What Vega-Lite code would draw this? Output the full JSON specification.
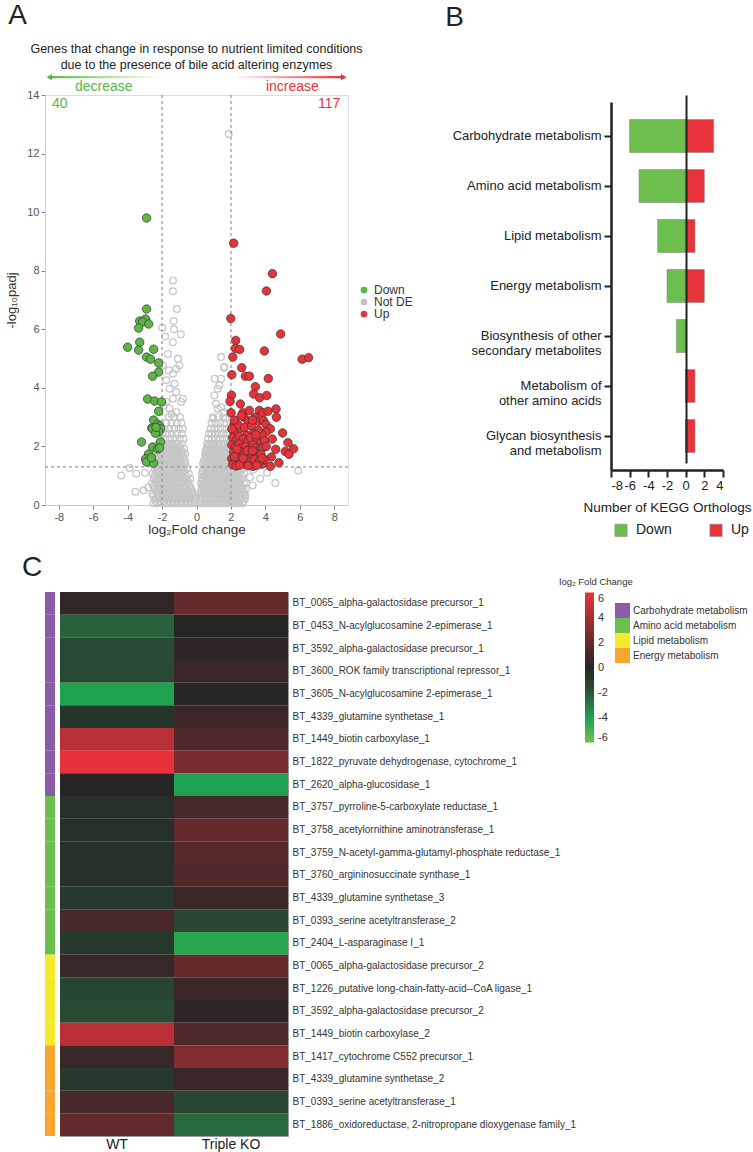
{
"$schema": "https://vega.github.io/schema/vega-lite/v6.json",
"padding": {"left": 5, "top": 1, "right": 0, "bottom": 0},
"background": "white",
"config": {"font": "Liberation Sans", "view": {"stroke": null}},
"datasets": {
"notde": [
{"lfc":1.87,"nlp":12.67},{"lfc":-1.37,"nlp":7.67},{"lfc":-1.37,"nlp":7.3},{"lfc":-1.14,"nlp":6.69},{"lfc":-1.33,"nlp":6.28},{"lfc":-1.99,"nlp":6.05},{"lfc":-1.31,"nlp":6.0},{"lfc":-1.82,"nlp":5.75},{"lfc":-0.91,"nlp":5.83},{"lfc":-1.37,"nlp":5.56},{"lfc":-1.66,"nlp":5.16},{"lfc":-1.08,"nlp":4.99},{"lfc":-0.99,"nlp":4.77},{"lfc":-1.18,"nlp":4.65},{"lfc":-1.95,"nlp":4.77},{"lfc":-1.6,"nlp":4.6},{"lfc":-1.37,"nlp":4.48},{"lfc":-1.76,"nlp":4.26},{"lfc":-1.28,"nlp":4.14},{"lfc":-1.57,"nlp":3.97},{"lfc":-1.18,"nlp":3.86},{"lfc":-1.37,"nlp":3.63},{"lfc":-0.79,"nlp":3.63},{"lfc":-0.89,"nlp":3.52},{"lfc":-1.76,"nlp":3.52},{"lfc":-1.57,"nlp":3.29},{"lfc":-1.18,"nlp":3.17},{"lfc":-1.9,"nlp":3.4},{"lfc":-1.45,"nlp":3.1},
{"lfc":1.43,"nlp":5.05},{"lfc":1.59,"nlp":4.69},{"lfc":1.06,"nlp":4.31},{"lfc":1.43,"nlp":4.31},{"lfc":1.33,"nlp":4.09},{"lfc":1.62,"nlp":4.71},{"lfc":1.04,"nlp":3.74},{"lfc":1.24,"nlp":3.97},{"lfc":1.14,"nlp":3.46},{"lfc":1.43,"nlp":3.34},{"lfc":1.62,"nlp":3.17},{"lfc":1.24,"nlp":3.29},{"lfc":0.95,"nlp":2.95},{"lfc":1.8,"nlp":3.3},{"lfc":1.7,"nlp":2.95},
{"lfc":-4.37,"nlp":1.01},{"lfc":-3.88,"nlp":1.26},{"lfc":-3.5,"nlp":1.07},{"lfc":-3.55,"nlp":0.45},{"lfc":-3.07,"nlp":0.5},{"lfc":5.91,"nlp":1.18},{"lfc":4.58,"nlp":0.75},{"lfc":2.88,"nlp":0.73},{"lfc":3.26,"nlp":0.67},{"lfc":2.82,"nlp":0.35},{"lfc":3.1,"nlp":0.95},{"lfc":-2.8,"nlp":0.6},{"lfc":-3.0,"nlp":1.1},{"lfc":3.3,"nlp":1.2},{"lfc":4.1,"nlp":1.1},{"lfc":3.7,"nlp":0.9},
{"lfc":-2.5,"nlp":0.06},{"lfc":-2.28,"nlp":0.06},{"lfc":-2.02,"nlp":0.06},{"lfc":-1.77,"nlp":0.06},{"lfc":-1.5,"nlp":0.06},{"lfc":-1.26,"nlp":0.06},{"lfc":-0.99,"nlp":0.06},{"lfc":-0.74,"nlp":0.06},{"lfc":-0.5,"nlp":0.06},{"lfc":-0.27,"nlp":0.06},{"lfc":-0.08,"nlp":0.06},
{"lfc":-2.38,"nlp":0.22},{"lfc":-2.12,"nlp":0.22},{"lfc":-1.88,"nlp":0.22},{"lfc":-1.62,"nlp":0.22},{"lfc":-1.37,"nlp":0.22},{"lfc":-1.11,"nlp":0.22},{"lfc":-0.86,"nlp":0.22},{"lfc":-0.62,"nlp":0.22},{"lfc":-0.38,"nlp":0.22},{"lfc":-0.14,"nlp":0.22},
{"lfc":-2.55,"nlp":0.39},{"lfc":-2.3,"nlp":0.39},{"lfc":-2.05,"nlp":0.39},{"lfc":-1.79,"nlp":0.39},{"lfc":-1.53,"nlp":0.39},{"lfc":-1.28,"nlp":0.39},{"lfc":-1.03,"nlp":0.39},{"lfc":-0.78,"nlp":0.39},{"lfc":-0.52,"nlp":0.39},{"lfc":-0.24,"nlp":0.39},
{"lfc":-2.45,"nlp":0.56},{"lfc":-2.18,"nlp":0.56},{"lfc":-1.92,"nlp":0.56},{"lfc":-1.66,"nlp":0.56},{"lfc":-1.41,"nlp":0.56},{"lfc":-1.16,"nlp":0.56},{"lfc":-0.9,"nlp":0.56},{"lfc":-0.64,"nlp":0.56},{"lfc":-0.34,"nlp":0.56},
{"lfc":-2.58,"nlp":0.73},{"lfc":-2.33,"nlp":0.73},{"lfc":-2.07,"nlp":0.73},{"lfc":-1.8,"nlp":0.73},{"lfc":-1.55,"nlp":0.73},{"lfc":-1.3,"nlp":0.73},{"lfc":-1.04,"nlp":0.73},{"lfc":-0.77,"nlp":0.73},{"lfc":-0.47,"nlp":0.73},
{"lfc":-2.47,"nlp":0.9},{"lfc":-2.2,"nlp":0.9},{"lfc":-1.94,"nlp":0.9},{"lfc":-1.68,"nlp":0.9},{"lfc":-1.42,"nlp":0.9},{"lfc":-1.17,"nlp":0.9},{"lfc":-0.92,"nlp":0.9},{"lfc":-0.63,"nlp":0.9},{"lfc":-0.36,"nlp":0.9},
{"lfc":-2.55,"nlp":1.07},{"lfc":-2.3,"nlp":1.07},{"lfc":-2.04,"nlp":1.07},{"lfc":-1.79,"nlp":1.07},{"lfc":-1.53,"nlp":1.07},{"lfc":-1.27,"nlp":1.07},{"lfc":-1.01,"nlp":1.07},{"lfc":-0.74,"nlp":1.07},{"lfc":-0.45,"nlp":1.07},
{"lfc":-2.42,"nlp":1.24},{"lfc":-2.16,"nlp":1.24},{"lfc":-1.9,"nlp":1.24},{"lfc":-1.64,"nlp":1.24},{"lfc":-1.39,"nlp":1.24},{"lfc":-1.12,"nlp":1.24},{"lfc":-0.85,"nlp":1.24},{"lfc":-0.55,"nlp":1.24},
{"lfc":-2.52,"nlp":1.41},{"lfc":-2.26,"nlp":1.41},{"lfc":-2.0,"nlp":1.41},{"lfc":-1.75,"nlp":1.41},{"lfc":-1.5,"nlp":1.41},{"lfc":-1.23,"nlp":1.41},{"lfc":-0.96,"nlp":1.41},{"lfc":-0.65,"nlp":1.41},
{"lfc":-2.37,"nlp":1.58},{"lfc":-2.1,"nlp":1.58},{"lfc":-1.85,"nlp":1.58},{"lfc":-1.59,"nlp":1.58},{"lfc":-1.33,"nlp":1.58},{"lfc":-1.06,"nlp":1.58},{"lfc":-0.76,"nlp":1.58},
{"lfc":-2.44,"nlp":1.75},{"lfc":-2.2,"nlp":1.75},{"lfc":-1.95,"nlp":1.75},{"lfc":-1.7,"nlp":1.75},{"lfc":-1.44,"nlp":1.75},{"lfc":-1.17,"nlp":1.75},{"lfc":-0.88,"nlp":1.75},{"lfc":-0.66,"nlp":1.75},
{"lfc":-2.3,"nlp":1.92},{"lfc":-2.05,"nlp":1.92},{"lfc":-1.8,"nlp":1.92},{"lfc":-1.54,"nlp":1.92},{"lfc":-1.28,"nlp":1.92},{"lfc":-0.99,"nlp":1.92},{"lfc":-0.72,"nlp":1.92},
{"lfc":-2.2,"nlp":2.09},{"lfc":-1.92,"nlp":2.09},{"lfc":-1.66,"nlp":2.09},{"lfc":-1.4,"nlp":2.09},{"lfc":-1.12,"nlp":2.09},{"lfc":-0.84,"nlp":2.09},
{"lfc":-2.08,"nlp":2.26},{"lfc":-1.81,"nlp":2.26},{"lfc":-1.55,"nlp":2.26},{"lfc":-1.27,"nlp":2.26},{"lfc":-0.98,"nlp":2.26},{"lfc":-0.76,"nlp":2.26},
{"lfc":-1.96,"nlp":2.43},{"lfc":-1.7,"nlp":2.43},{"lfc":-1.44,"nlp":2.43},{"lfc":-1.15,"nlp":2.43},{"lfc":-0.86,"nlp":2.43},
{"lfc":-1.85,"nlp":2.6},{"lfc":-1.58,"nlp":2.6},{"lfc":-1.3,"nlp":2.6},{"lfc":-1.02,"nlp":2.6},{"lfc":-0.8,"nlp":2.6},
{"lfc":-1.75,"nlp":2.8},{"lfc":-1.45,"nlp":2.8},{"lfc":-1.14,"nlp":2.8},{"lfc":-0.88,"nlp":2.8},
{"lfc":-1.62,"nlp":3.0},{"lfc":-1.3,"nlp":3.0},{"lfc":-0.96,"nlp":3.0},
{"lfc":0.2,"nlp":0.06},{"lfc":0.42,"nlp":0.06},{"lfc":0.67,"nlp":0.06},{"lfc":0.92,"nlp":0.06},{"lfc":1.17,"nlp":0.06},{"lfc":1.42,"nlp":0.06},{"lfc":1.68,"nlp":0.06},{"lfc":1.93,"nlp":0.06},{"lfc":2.18,"nlp":0.06},{"lfc":2.43,"nlp":0.06},{"lfc":2.68,"nlp":0.06},
{"lfc":0.28,"nlp":0.22},{"lfc":0.54,"nlp":0.22},{"lfc":0.8,"nlp":0.22},{"lfc":1.05,"nlp":0.22},{"lfc":1.3,"nlp":0.22},{"lfc":1.56,"nlp":0.22},{"lfc":1.81,"nlp":0.22},{"lfc":2.06,"nlp":0.22},{"lfc":2.32,"nlp":0.22},{"lfc":2.57,"nlp":0.22},{"lfc":2.82,"nlp":0.22},
{"lfc":0.22,"nlp":0.39},{"lfc":0.41,"nlp":0.39},{"lfc":0.66,"nlp":0.39},{"lfc":0.92,"nlp":0.39},{"lfc":1.18,"nlp":0.39},{"lfc":1.43,"nlp":0.39},{"lfc":1.69,"nlp":0.39},{"lfc":1.94,"nlp":0.39},{"lfc":2.2,"nlp":0.39},{"lfc":2.45,"nlp":0.39},{"lfc":2.72,"nlp":0.39},
{"lfc":0.3,"nlp":0.56},{"lfc":0.54,"nlp":0.56},{"lfc":0.8,"nlp":0.56},{"lfc":1.05,"nlp":0.56},{"lfc":1.31,"nlp":0.56},{"lfc":1.56,"nlp":0.56},{"lfc":1.82,"nlp":0.56},{"lfc":2.08,"nlp":0.56},{"lfc":2.33,"nlp":0.56},{"lfc":2.6,"nlp":0.56},{"lfc":2.88,"nlp":0.56},
{"lfc":0.27,"nlp":0.73},{"lfc":0.45,"nlp":0.73},{"lfc":0.69,"nlp":0.73},{"lfc":0.94,"nlp":0.73},{"lfc":1.2,"nlp":0.73},{"lfc":1.45,"nlp":0.73},{"lfc":1.7,"nlp":0.73},{"lfc":1.96,"nlp":0.73},{"lfc":2.22,"nlp":0.73},{"lfc":2.48,"nlp":0.73},{"lfc":2.75,"nlp":0.73},
{"lfc":0.33,"nlp":0.9},{"lfc":0.58,"nlp":0.9},{"lfc":0.83,"nlp":0.9},{"lfc":1.08,"nlp":0.9},{"lfc":1.33,"nlp":0.9},{"lfc":1.59,"nlp":0.9},{"lfc":1.84,"nlp":0.9},{"lfc":2.1,"nlp":0.9},{"lfc":2.36,"nlp":0.9},{"lfc":2.62,"nlp":0.9},
{"lfc":0.3,"nlp":1.07},{"lfc":0.48,"nlp":1.07},{"lfc":0.72,"nlp":1.07},{"lfc":0.97,"nlp":1.07},{"lfc":1.22,"nlp":1.07},{"lfc":1.47,"nlp":1.07},{"lfc":1.73,"nlp":1.07},{"lfc":1.98,"nlp":1.07},{"lfc":2.24,"nlp":1.07},{"lfc":2.5,"nlp":1.07},{"lfc":2.77,"nlp":1.07},
{"lfc":0.4,"nlp":1.24},{"lfc":0.62,"nlp":1.24},{"lfc":0.87,"nlp":1.24},{"lfc":1.11,"nlp":1.24},{"lfc":1.36,"nlp":1.24},{"lfc":1.62,"nlp":1.24},{"lfc":1.88,"nlp":1.24},{"lfc":2.13,"nlp":1.24},{"lfc":2.39,"nlp":1.24},{"lfc":2.64,"nlp":1.24},
{"lfc":0.38,"nlp":1.41},{"lfc":0.55,"nlp":1.41},{"lfc":0.79,"nlp":1.41},{"lfc":1.03,"nlp":1.41},{"lfc":1.28,"nlp":1.41},{"lfc":1.53,"nlp":1.41},{"lfc":1.78,"nlp":1.41},{"lfc":2.04,"nlp":1.41},{"lfc":2.3,"nlp":1.41},
{"lfc":0.48,"nlp":1.58},{"lfc":0.69,"nlp":1.58},{"lfc":0.93,"nlp":1.58},{"lfc":1.17,"nlp":1.58},{"lfc":1.42,"nlp":1.58},{"lfc":1.67,"nlp":1.58},{"lfc":1.93,"nlp":1.58},{"lfc":2.18,"nlp":1.58},
{"lfc":0.5,"nlp":1.75},{"lfc":0.63,"nlp":1.75},{"lfc":0.86,"nlp":1.75},{"lfc":1.1,"nlp":1.75},{"lfc":1.35,"nlp":1.75},{"lfc":1.6,"nlp":1.75},{"lfc":1.85,"nlp":1.75},{"lfc":2.1,"nlp":1.75},
{"lfc":0.58,"nlp":1.92},{"lfc":0.79,"nlp":1.92},{"lfc":1.02,"nlp":1.92},{"lfc":1.26,"nlp":1.92},{"lfc":1.5,"nlp":1.92},{"lfc":1.75,"nlp":1.92},{"lfc":2.0,"nlp":1.92},
{"lfc":0.61,"nlp":2.09},{"lfc":0.74,"nlp":2.09},{"lfc":0.96,"nlp":2.09},{"lfc":1.2,"nlp":2.09},{"lfc":1.44,"nlp":2.09},{"lfc":1.68,"nlp":2.09},{"lfc":1.93,"nlp":2.09},
{"lfc":0.68,"nlp":2.26},{"lfc":0.9,"nlp":2.26},{"lfc":1.13,"nlp":2.26},{"lfc":1.37,"nlp":2.26},{"lfc":1.61,"nlp":2.26},{"lfc":1.86,"nlp":2.26},
{"lfc":0.72,"nlp":2.43},{"lfc":0.86,"nlp":2.43},{"lfc":1.08,"nlp":2.43},{"lfc":1.31,"nlp":2.43},{"lfc":1.55,"nlp":2.43},{"lfc":1.8,"nlp":2.43},
{"lfc":0.82,"nlp":2.6},{"lfc":1.03,"nlp":2.6},{"lfc":1.26,"nlp":2.6},{"lfc":1.5,"nlp":2.6},{"lfc":1.75,"nlp":2.6},
{"lfc":0.88,"nlp":2.8},{"lfc":1.12,"nlp":2.8},{"lfc":1.38,"nlp":2.8},{"lfc":1.63,"nlp":2.8},
{"lfc":0.95,"nlp":3.0},{"lfc":1.25,"nlp":3.0},{"lfc":1.55,"nlp":3.0},
{"lfc":-2.4,"nlp":0.14},{"lfc":-2.15,"nlp":0.14},{"lfc":-1.9,"nlp":0.14},{"lfc":-1.64,"nlp":0.14},{"lfc":-1.38,"nlp":0.14},{"lfc":-1.12,"nlp":0.14},{"lfc":-0.87,"nlp":0.14},{"lfc":-0.61,"nlp":0.14},{"lfc":-0.36,"nlp":0.14},{"lfc":-0.12,"nlp":0.14},
{"lfc":-2.5,"nlp":0.31},{"lfc":-2.24,"nlp":0.31},{"lfc":-1.98,"nlp":0.31},{"lfc":-1.72,"nlp":0.31},{"lfc":-1.46,"nlp":0.31},{"lfc":-1.2,"nlp":0.31},{"lfc":-0.94,"nlp":0.31},{"lfc":-0.68,"nlp":0.31},{"lfc":-0.42,"nlp":0.31},{"lfc":-0.18,"nlp":0.31},
{"lfc":-2.36,"nlp":0.48},{"lfc":-2.1,"nlp":0.48},{"lfc":-1.84,"nlp":0.48},{"lfc":-1.58,"nlp":0.48},{"lfc":-1.32,"nlp":0.48},{"lfc":-1.06,"nlp":0.48},{"lfc":-0.8,"nlp":0.48},{"lfc":-0.52,"nlp":0.48},{"lfc":-0.26,"nlp":0.48},
{"lfc":-2.5,"nlp":0.65},{"lfc":-2.24,"nlp":0.65},{"lfc":-1.98,"nlp":0.65},{"lfc":-1.72,"nlp":0.65},{"lfc":-1.46,"nlp":0.65},{"lfc":-1.2,"nlp":0.65},{"lfc":-0.92,"nlp":0.65},{"lfc":-0.64,"nlp":0.65},{"lfc":-0.38,"nlp":0.65},
{"lfc":-2.36,"nlp":0.82},{"lfc":-2.1,"nlp":0.82},{"lfc":-1.84,"nlp":0.82},{"lfc":-1.58,"nlp":0.82},{"lfc":-1.32,"nlp":0.82},{"lfc":-1.06,"nlp":0.82},{"lfc":-0.79,"nlp":0.82},{"lfc":-0.5,"nlp":0.82},
{"lfc":-2.44,"nlp":0.99},{"lfc":-2.18,"nlp":0.99},{"lfc":-1.92,"nlp":0.99},{"lfc":-1.66,"nlp":0.99},{"lfc":-1.4,"nlp":0.99},{"lfc":-1.14,"nlp":0.99},{"lfc":-0.87,"nlp":0.99},{"lfc":-0.58,"nlp":0.99},
{"lfc":-2.3,"nlp":1.16},{"lfc":-2.04,"nlp":1.16},{"lfc":-1.78,"nlp":1.16},{"lfc":-1.52,"nlp":1.16},{"lfc":-1.26,"nlp":1.16},{"lfc":-0.99,"nlp":1.16},{"lfc":-0.7,"nlp":1.16},
{"lfc":-2.36,"nlp":1.33},{"lfc":-2.1,"nlp":1.33},{"lfc":-1.84,"nlp":1.33},{"lfc":-1.58,"nlp":1.33},{"lfc":-1.32,"nlp":1.33},{"lfc":-1.05,"nlp":1.33},{"lfc":-0.75,"nlp":1.33},
{"lfc":-2.26,"nlp":1.5},{"lfc":-2.0,"nlp":1.5},{"lfc":-1.74,"nlp":1.5},{"lfc":-1.48,"nlp":1.5},{"lfc":-1.21,"nlp":1.5},{"lfc":-0.92,"nlp":1.5},{"lfc":-0.66,"nlp":1.5},
{"lfc":-2.3,"nlp":1.67},{"lfc":-2.05,"nlp":1.67},{"lfc":-1.8,"nlp":1.67},{"lfc":-1.55,"nlp":1.67},{"lfc":-1.3,"nlp":1.67},{"lfc":-1.03,"nlp":1.67},{"lfc":-0.76,"nlp":1.67},
{"lfc":-2.18,"nlp":1.84},{"lfc":-1.93,"nlp":1.84},{"lfc":-1.68,"nlp":1.84},{"lfc":-1.42,"nlp":1.84},{"lfc":-1.15,"nlp":1.84},{"lfc":-0.86,"nlp":1.84},
{"lfc":-2.0,"nlp":2.0},{"lfc":-1.75,"nlp":2.0},{"lfc":-1.5,"nlp":2.0},{"lfc":-1.24,"nlp":2.0},{"lfc":-0.96,"nlp":2.0},
{"lfc":0.25,"nlp":0.14},{"lfc":0.5,"nlp":0.14},{"lfc":0.75,"nlp":0.14},{"lfc":1.0,"nlp":0.14},{"lfc":1.25,"nlp":0.14},{"lfc":1.5,"nlp":0.14},{"lfc":1.75,"nlp":0.14},{"lfc":2.0,"nlp":0.14},{"lfc":2.25,"nlp":0.14},{"lfc":2.5,"nlp":0.14},{"lfc":2.75,"nlp":0.14},
{"lfc":0.3,"nlp":0.31},{"lfc":0.55,"nlp":0.31},{"lfc":0.8,"nlp":0.31},{"lfc":1.05,"nlp":0.31},{"lfc":1.3,"nlp":0.31},{"lfc":1.55,"nlp":0.31},{"lfc":1.8,"nlp":0.31},{"lfc":2.05,"nlp":0.31},{"lfc":2.3,"nlp":0.31},{"lfc":2.55,"nlp":0.31},{"lfc":2.8,"nlp":0.31},
{"lfc":0.25,"nlp":0.48},{"lfc":0.45,"nlp":0.48},{"lfc":0.7,"nlp":0.48},{"lfc":0.95,"nlp":0.48},{"lfc":1.2,"nlp":0.48},{"lfc":1.45,"nlp":0.48},{"lfc":1.7,"nlp":0.48},{"lfc":1.95,"nlp":0.48},{"lfc":2.2,"nlp":0.48},{"lfc":2.46,"nlp":0.48},{"lfc":2.74,"nlp":0.48},
{"lfc":0.36,"nlp":0.65},{"lfc":0.6,"nlp":0.65},{"lfc":0.84,"nlp":0.65},{"lfc":1.08,"nlp":0.65},{"lfc":1.33,"nlp":0.65},{"lfc":1.58,"nlp":0.65},{"lfc":1.83,"nlp":0.65},{"lfc":2.08,"nlp":0.65},{"lfc":2.34,"nlp":0.65},{"lfc":2.6,"nlp":0.65},
{"lfc":0.3,"nlp":0.82},{"lfc":0.5,"nlp":0.82},{"lfc":0.74,"nlp":0.82},{"lfc":0.99,"nlp":0.82},{"lfc":1.24,"nlp":0.82},{"lfc":1.49,"nlp":0.82},{"lfc":1.74,"nlp":0.82},{"lfc":2.0,"nlp":0.82},{"lfc":2.26,"nlp":0.82},{"lfc":2.52,"nlp":0.82},
{"lfc":0.4,"nlp":0.99},{"lfc":0.63,"nlp":0.99},{"lfc":0.87,"nlp":0.99},{"lfc":1.11,"nlp":0.99},{"lfc":1.36,"nlp":0.99},{"lfc":1.61,"nlp":0.99},{"lfc":1.86,"nlp":0.99},{"lfc":2.11,"nlp":0.99},{"lfc":2.37,"nlp":0.99},{"lfc":2.65,"nlp":0.99},
{"lfc":0.35,"nlp":1.16},{"lfc":0.56,"nlp":1.16},{"lfc":0.8,"nlp":1.16},{"lfc":1.04,"nlp":1.16},{"lfc":1.29,"nlp":1.16},{"lfc":1.54,"nlp":1.16},{"lfc":1.79,"nlp":1.16},{"lfc":2.05,"nlp":1.16},{"lfc":2.31,"nlp":1.16},
{"lfc":0.45,"nlp":1.33},{"lfc":0.68,"nlp":1.33},{"lfc":0.92,"nlp":1.33},{"lfc":1.16,"nlp":1.33},{"lfc":1.41,"nlp":1.33},{"lfc":1.66,"nlp":1.33},{"lfc":1.91,"nlp":1.33},{"lfc":2.17,"nlp":1.33},{"lfc":2.45,"nlp":1.33},
{"lfc":0.43,"nlp":1.5},{"lfc":0.62,"nlp":1.5},{"lfc":0.85,"nlp":1.5},{"lfc":1.1,"nlp":1.5},{"lfc":1.35,"nlp":1.5},{"lfc":1.6,"nlp":1.5},{"lfc":1.85,"nlp":1.5},{"lfc":2.1,"nlp":1.5},
{"lfc":0.55,"nlp":1.67},{"lfc":0.75,"nlp":1.67},{"lfc":0.98,"nlp":1.67},{"lfc":1.22,"nlp":1.67},{"lfc":1.47,"nlp":1.67},{"lfc":1.72,"nlp":1.67},{"lfc":1.97,"nlp":1.67},
{"lfc":0.55,"nlp":1.84},{"lfc":0.7,"nlp":1.84},{"lfc":0.92,"nlp":1.84},{"lfc":1.16,"nlp":1.84},{"lfc":1.4,"nlp":1.84},{"lfc":1.65,"nlp":1.84},{"lfc":1.9,"nlp":1.84},{"lfc":2.15,"nlp":1.84},
{"lfc":0.66,"nlp":2.0},{"lfc":0.86,"nlp":2.0},{"lfc":1.08,"nlp":2.0},{"lfc":1.32,"nlp":2.0},{"lfc":1.56,"nlp":2.0},{"lfc":1.81,"nlp":2.0}
],
"de": [
{"lfc":-2.9,"nlp":9.8,"status":"Down"},{"lfc":-2.9,"nlp":6.69,"status":"Down"},{"lfc":-3.3,"nlp":6.28,"status":"Down"},{"lfc":-2.96,"nlp":6.35,"status":"Down"},{"lfc":-3.13,"nlp":6.25,"status":"Down"},{"lfc":-2.78,"nlp":6.18,"status":"Down"},{"lfc":-3.36,"nlp":6.04,"status":"Down"},{"lfc":-4.0,"nlp":5.39,"status":"Down"},{"lfc":-3.3,"nlp":5.56,"status":"Down"},{"lfc":-3.36,"nlp":5.29,"status":"Down"},
{"lfc":-2.49,"nlp":5.32,"status":"Down"},{"lfc":-2.9,"nlp":5.05,"status":"Down"},{"lfc":-2.67,"nlp":4.98,"status":"Down"},{"lfc":-2.2,"nlp":4.85,"status":"Down"},{"lfc":-2.2,"nlp":4.54,"status":"Down"},{"lfc":-2.55,"nlp":4.4,"status":"Down"},{"lfc":-2.84,"nlp":3.62,"status":"Down"},{"lfc":-2.43,"nlp":3.55,"status":"Down"},{"lfc":-2.03,"nlp":3.52,"status":"Down"},{"lfc":-2.2,"nlp":3.2,"status":"Down"},
{"lfc":-2.49,"nlp":2.9,"status":"Down"},{"lfc":-2.26,"nlp":2.76,"status":"Down"},{"lfc":-2.14,"nlp":2.7,"status":"Down"},{"lfc":-2.6,"nlp":2.63,"status":"Down"},{"lfc":-2.55,"nlp":2.6,"status":"Down"},{"lfc":-2.32,"nlp":2.53,"status":"Down"},{"lfc":-2.09,"nlp":2.6,"status":"Down"},{"lfc":-2.2,"nlp":2.49,"status":"Down"},{"lfc":-3.19,"nlp":2.15,"status":"Down"},{"lfc":-2.09,"nlp":2.15,"status":"Down"},
{"lfc":-2.55,"nlp":1.98,"status":"Down"},{"lfc":-2.26,"nlp":1.91,"status":"Down"},{"lfc":-2.78,"nlp":1.74,"status":"Down"},{"lfc":-2.96,"nlp":1.57,"status":"Down"},{"lfc":-2.9,"nlp":1.47,"status":"Down"},{"lfc":-2.49,"nlp":1.43,"status":"Down"},{"lfc":-2.38,"nlp":2.45,"status":"Down"},{"lfc":-2.15,"nlp":1.95,"status":"Down"},{"lfc":-2.35,"nlp":2.65,"status":"Down"},{"lfc":-2.62,"nlp":1.62,"status":"Down"},
{"lfc":2.16,"nlp":8.94,"status":"Up"},{"lfc":4.41,"nlp":7.9,"status":"Up"},{"lfc":4.06,"nlp":7.31,"status":"Up"},{"lfc":1.99,"nlp":6.37,"status":"Up"},{"lfc":4.89,"nlp":5.84,"status":"Up"},{"lfc":2.28,"nlp":5.62,"status":"Up"},{"lfc":2.26,"nlp":5.35,"status":"Up"},{"lfc":2.51,"nlp":5.31,"status":"Up"},{"lfc":3.94,"nlp":5.26,"status":"Up"},{"lfc":2.11,"nlp":5.05,"status":"Up"},
{"lfc":6.14,"nlp":4.98,"status":"Up"},{"lfc":6.51,"nlp":5.03,"status":"Up"},{"lfc":2.63,"nlp":4.69,"status":"Up"},{"lfc":2.05,"nlp":4.45,"status":"Up"},{"lfc":2.84,"nlp":4.4,"status":"Up"},{"lfc":3.07,"nlp":4.4,"status":"Up"},{"lfc":4.17,"nlp":4.32,"status":"Up"},{"lfc":3.42,"nlp":4.04,"status":"Up"},{"lfc":3.32,"nlp":3.79,"status":"Up"},{"lfc":3.67,"nlp":3.66,"status":"Up"},
{"lfc":4.08,"nlp":3.74,"status":"Up"},{"lfc":2.03,"nlp":3.75,"status":"Up"},{"lfc":1.95,"nlp":3.54,"status":"Up"},{"lfc":2.55,"nlp":3.45,"status":"Up"},{"lfc":2.01,"nlp":3.15,"status":"Up"},{"lfc":2.69,"nlp":3.15,"status":"Up"},{"lfc":3.07,"nlp":3.23,"status":"Up"},{"lfc":2.76,"nlp":3.0,"status":"Up"},{"lfc":3.0,"nlp":2.87,"status":"Up"},{"lfc":3.4,"nlp":3.0,"status":"Up"},
{"lfc":3.65,"nlp":3.23,"status":"Up"},{"lfc":3.85,"nlp":3.15,"status":"Up"},{"lfc":4.15,"nlp":3.2,"status":"Up"},{"lfc":4.62,"nlp":3.28,"status":"Up"},{"lfc":4.64,"nlp":3.0,"status":"Up"},{"lfc":3.61,"nlp":2.86,"status":"Up"},{"lfc":3.88,"nlp":2.89,"status":"Up"},{"lfc":2.18,"nlp":2.76,"status":"Up"},{"lfc":4.04,"nlp":2.75,"status":"Up"},{"lfc":4.29,"nlp":2.6,"status":"Up"},
{"lfc":4.04,"nlp":2.49,"status":"Up"},{"lfc":5.0,"nlp":2.46,"status":"Up"},{"lfc":3.79,"nlp":2.41,"status":"Up"},{"lfc":3.32,"nlp":2.47,"status":"Up"},{"lfc":2.9,"nlp":2.38,"status":"Up"},{"lfc":2.49,"nlp":2.6,"status":"Up"},{"lfc":2.18,"nlp":2.47,"status":"Up"},{"lfc":5.31,"nlp":2.13,"status":"Up"},{"lfc":5.64,"nlp":1.92,"status":"Up"},{"lfc":5.16,"nlp":1.83,"status":"Up"},
{"lfc":5.37,"nlp":1.73,"status":"Up"},{"lfc":4.35,"nlp":1.64,"status":"Up"},{"lfc":4.79,"nlp":1.44,"status":"Up"},{"lfc":4.29,"nlp":1.32,"status":"Up"},{"lfc":3.81,"nlp":1.39,"status":"Up"},{"lfc":3.29,"nlp":1.32,"status":"Up"},{"lfc":2.78,"nlp":1.39,"status":"Up"},{"lfc":2.1,"nlp":2.3,"status":"Up"},{"lfc":2.3,"nlp":2.2,"status":"Up"},{"lfc":2.5,"nlp":2.35,"status":"Up"},
{"lfc":2.7,"nlp":2.25,"status":"Up"},{"lfc":2.95,"nlp":2.15,"status":"Up"},{"lfc":3.15,"nlp":2.3,"status":"Up"},{"lfc":3.5,"nlp":2.2,"status":"Up"},{"lfc":3.7,"nlp":2.1,"status":"Up"},{"lfc":3.95,"nlp":2.2,"status":"Up"},{"lfc":2.05,"nlp":2.05,"status":"Up"},{"lfc":2.25,"nlp":1.98,"status":"Up"},{"lfc":2.45,"nlp":2.08,"status":"Up"},{"lfc":2.65,"nlp":1.95,"status":"Up"},
{"lfc":2.85,"nlp":2.0,"status":"Up"},{"lfc":3.1,"nlp":1.9,"status":"Up"},{"lfc":3.3,"nlp":2.05,"status":"Up"},{"lfc":3.45,"nlp":1.95,"status":"Up"},{"lfc":3.6,"nlp":1.85,"status":"Up"},{"lfc":3.85,"nlp":1.95,"status":"Up"},{"lfc":4.05,"nlp":2.0,"status":"Up"},{"lfc":2.15,"nlp":1.8,"status":"Up"},{"lfc":2.35,"nlp":1.72,"status":"Up"},{"lfc":2.55,"nlp":1.82,"status":"Up"},
{"lfc":2.75,"nlp":1.7,"status":"Up"},{"lfc":3.0,"nlp":1.75,"status":"Up"},{"lfc":3.2,"nlp":1.65,"status":"Up"},{"lfc":3.4,"nlp":1.78,"status":"Up"},{"lfc":3.55,"nlp":1.62,"status":"Up"},{"lfc":3.75,"nlp":1.72,"status":"Up"},{"lfc":2.05,"nlp":1.58,"status":"Up"},{"lfc":2.25,"nlp":1.5,"status":"Up"},{"lfc":2.45,"nlp":1.6,"status":"Up"},{"lfc":2.6,"nlp":1.45,"status":"Up"},
{"lfc":2.9,"nlp":1.55,"status":"Up"},{"lfc":3.1,"nlp":1.45,"status":"Up"},{"lfc":3.35,"nlp":1.55,"status":"Up"},{"lfc":3.65,"nlp":1.48,"status":"Up"},{"lfc":2.1,"nlp":1.38,"status":"Up"},{"lfc":2.3,"nlp":1.33,"status":"Up"},{"lfc":2.5,"nlp":1.36,"status":"Up"},{"lfc":3.0,"nlp":1.34,"status":"Up"},{"lfc":3.5,"nlp":1.36,"status":"Up"},{"lfc":3.95,"nlp":1.55,"status":"Up"},
{"lfc":4.6,"nlp":1.9,"status":"Up"},{"lfc":4.4,"nlp":2.25,"status":"Up"},{"lfc":2.4,"nlp":2.75,"status":"Up"},{"lfc":2.8,"nlp":2.65,"status":"Up"},{"lfc":3.2,"nlp":2.7,"status":"Up"},{"lfc":3.6,"nlp":2.55,"status":"Up"},{"lfc":2.2,"nlp":2.9,"status":"Up"},{"lfc":2.6,"nlp":3.05,"status":"Up"},{"lfc":3.25,"nlp":2.9,"status":"Up"},{"lfc":2.35,"nlp":1.9,"status":"Up"},
{"lfc":2.95,"nlp":1.85,"status":"Up"},{"lfc":3.25,"nlp":1.85,"status":"Up"},{"lfc":2.7,"nlp":1.6,"status":"Up"},{"lfc":3.8,"nlp":1.6,"status":"Up"},{"lfc":2.2,"nlp":1.65,"status":"Up"},{"lfc":3.45,"nlp":2.4,"status":"Up"},{"lfc":2.05,"nlp":2.6,"status":"Up"}
],
"kegg": [
{"pathway":"Carbohydrate metabolism","direction":"Down","count":-6},{"pathway":"Carbohydrate metabolism","direction":"Up","count":3},
{"pathway":"Amino acid metabolism","direction":"Down","count":-5},{"pathway":"Amino acid metabolism","direction":"Up","count":2},
{"pathway":"Lipid metabolism","direction":"Down","count":-3},{"pathway":"Lipid metabolism","direction":"Up","count":1},
{"pathway":"Energy metabolism","direction":"Down","count":-2},{"pathway":"Energy metabolism","direction":"Up","count":2},
{"pathway":"Biosynthesis of other|secondary metabolites","direction":"Down","count":-1},{"pathway":"Biosynthesis of other|secondary metabolites","direction":"Up","count":0},
{"pathway":"Metabolism of |other amino acids","direction":"Down","count":0},{"pathway":"Metabolism of |other amino acids","direction":"Up","count":1},
{"pathway":"Glycan biosynthesis |and metabolism","direction":"Down","count":0},{"pathway":"Glycan biosynthesis |and metabolism","direction":"Up","count":1}
],
"genes": [
{"gene":"BT_0065_alpha-galactosidase precursor_1","category":"Carbohydrate metabolism","WT":0.4,"Triple KO":2.0},
{"gene":"BT_0453_N-acylglucosamine 2-epimerase_1","category":"Carbohydrate metabolism","WT":-2.3,"Triple KO":0.0},
{"gene":"BT_3592_alpha-galactosidase precursor_1","category":"Carbohydrate metabolism","WT":-1.5,"Triple KO":0.3},
{"gene":"BT_3600_ROK family transcriptional repressor_1","category":"Carbohydrate metabolism","WT":-1.5,"Triple KO":0.6},
{"gene":"BT_3605_N-acylglucosamine 2-epimerase_1","category":"Carbohydrate metabolism","WT":-4.0,"Triple KO":0.05},
{"gene":"BT_4339_glutamine synthetase_1","category":"Carbohydrate metabolism","WT":-0.6,"Triple KO":0.7},
{"gene":"BT_1449_biotin carboxylase_1","category":"Carbohydrate metabolism","WT":4.6,"Triple KO":1.3},
{"gene":"BT_1822_pyruvate dehydrogenase, cytochrome_1","category":"Carbohydrate metabolism","WT":5.9,"Triple KO":2.6},
{"gene":"BT_2620_alpha-glucosidase_1","category":"Carbohydrate metabolism","WT":0.0,"Triple KO":-4.0},
{"gene":"BT_3757_pyrroline-5-carboxylate reductase_1","category":"Amino acid metabolism","WT":-0.4,"Triple KO":1.1},
{"gene":"BT_3758_acetylornithine aminotransferase_1","category":"Amino acid metabolism","WT":-0.4,"Triple KO":2.0},
{"gene":"BT_3759_N-acetyl-gamma-glutamyl-phosphate reductase_1","category":"Amino acid metabolism","WT":-0.5,"Triple KO":1.6},
{"gene":"BT_3760_argininosuccinate synthase_1","category":"Amino acid metabolism","WT":-0.5,"Triple KO":1.4},
{"gene":"BT_4339_glutamine synthetase_3","category":"Amino acid metabolism","WT":-0.8,"Triple KO":0.7},
{"gene":"BT_0393_serine acetyltransferase_2","category":"Amino acid metabolism","WT":1.1,"Triple KO":-1.4},
{"gene":"BT_2404_L-asparaginase I_1","category":"Amino acid metabolism","WT":-0.8,"Triple KO":-4.2},
{"gene":"BT_0065_alpha-galactosidase precursor_2","category":"Lipid metabolism","WT":0.6,"Triple KO":2.0},
{"gene":"BT_1226_putative long-chain-fatty-acid--CoA ligase_1","category":"Lipid metabolism","WT":-1.3,"Triple KO":0.7},
{"gene":"BT_3592_alpha-galactosidase precursor_2","category":"Lipid metabolism","WT":-1.5,"Triple KO":0.3},
{"gene":"BT_1449_biotin carboxylase_2","category":"Lipid metabolism","WT":4.6,"Triple KO":1.3},
{"gene":"BT_1417_cytochrome C552 precursor_1","category":"Energy metabolism","WT":0.6,"Triple KO":2.9},
{"gene":"BT_4339_glutamine synthetase_2","category":"Energy metabolism","WT":-0.8,"Triple KO":0.7},
{"gene":"BT_0393_serine acetyltransferase_1","category":"Energy metabolism","WT":1.1,"Triple KO":-1.4},
{"gene":"BT_1886_oxidoreductase, 2-nitropropane dioxygenase family_1","category":"Energy metabolism","WT":1.9,"Triple KO":-2.5}
]
},
"vconcat": [
{
"hconcat": [
{
"width": 303, "height": 410,
"view": {"stroke": "#dddddd"},
"encoding": {
  "x": {"type": "quantitative", "scale": {"domain": [-8.8, 8.8], "nice": false, "zero": false},
        "axis": {"values": [-8,-6,-4,-2,0,2,4,6,8], "labelExpr": "replace(datum.label, '−', '-')", "title": "log₂Fold change", "titleFontSize": 13.5, "titleFontWeight": "normal", "titleColor": "#333", "titlePadding": 0, "labelFontSize": 11, "labelColor": "#555", "tickColor": "#888", "tickSize": 4, "domainColor": "#cccccc", "grid": false}},
  "y": {"type": "quantitative", "scale": {"domain": [0, 14], "nice": false, "zero": false},
        "axis": {"values": [0,2,4,6,8,10,12,14], "title": "-log₁₀padj", "titleFontSize": 13, "titleFontWeight": "normal", "titleColor": "#333", "titlePadding": 8, "labelFontSize": 11, "labelColor": "#555", "tickColor": "#888", "tickSize": 4, "domainColor": "#cccccc", "grid": false}}
},
"layer": [
  {"data": {"name": "notde"}, "mark": {"type": "point", "filled": false, "stroke": "#c6c6c6", "strokeWidth": 1.2, "size": 46, "opacity": 1},
   "encoding": {"x": {"field": "lfc"}, "y": {"field": "nlp"}}},
  {"data": {"values": [{"v": -2}, {"v": 2}]}, "mark": {"type": "rule", "color": "#9a9a9a", "strokeWidth": 1.3, "strokeDash": [3, 3]},
   "encoding": {"x": {"field": "v"}}},
  {"data": {"values": [{"v": 1.3}]}, "mark": {"type": "rule", "color": "#9a9a9a", "strokeWidth": 1.3, "strokeDash": [3, 3]},
   "encoding": {"y": {"field": "v"}}},
  {"data": {"name": "de"}, "mark": {"type": "point", "filled": true, "stroke": "#333333", "strokeWidth": 0.7, "size": 72, "opacity": 1},
   "encoding": {"x": {"field": "lfc"}, "y": {"field": "nlp"},
     "color": {"field": "status", "type": "nominal",
       "scale": {"domain": ["Down", "Not DE", "Up"], "range": ["#5cb646", "#c4c4c4", "#e8323a"]},
       "legend": {"title": null, "orient": "none", "legendX": 313, "legendY": 189, "direction": "vertical", "symbolType": "circle", "symbolSize": 45, "symbolStrokeWidth": 0, "labelFontSize": 12, "labelColor": "#333", "rowPadding": 0, "labelOffset": 4}}}},
  {"data": {"values": [{}]}, "mark": {"type": "text", "align": "left", "baseline": "top", "fontSize": 28, "color": "#222", "text": "A"},
   "encoding": {"x": {"datum": -10.94}, "y": {"datum": 17.17}}},
  {"data": {"values": [{}]}, "mark": {"type": "text", "align": "center", "baseline": "alphabetic", "fontSize": 12.5, "lineHeight": 16, "color": "#222", "text": ["Genes that change in response to nutrient limited conditions", "due to the presence of bile acid altering enzymes"]},
   "encoding": {"x": {"datum": 0}, "y": {"datum": 15.43}}},
  {"data": {"values": [{}]}, "mark": {"type": "rect", "fill": {"gradient": "linear", "x1": 0, "y1": 0, "x2": 1, "y2": 0, "stops": [{"offset": 0, "color": "#5cb646"}, {"offset": 1, "color": "#ffffff"}]}},
   "encoding": {"x": {"datum": -8.6}, "x2": {"datum": -2.1}, "y": {"datum": 14.575}, "y2": {"datum": 14.645}}},
  {"data": {"values": [{}]}, "mark": {"type": "rect", "fill": {"gradient": "linear", "x1": 0, "y1": 0, "x2": 1, "y2": 0, "stops": [{"offset": 0, "color": "#ffffff"}, {"offset": 1, "color": "#e8323a"}]}},
   "encoding": {"x": {"datum": 2.1}, "x2": {"datum": 8.6}, "y": {"datum": 14.575}, "y2": {"datum": 14.645}}},
  {"data": {"values": [{}]}, "mark": {"type": "point", "shape": "triangle-left", "filled": true, "color": "#5cb646", "size": 40, "opacity": 1},
   "encoding": {"x": {"datum": -8.55}, "y": {"datum": 14.61}}},
  {"data": {"values": [{}]}, "mark": {"type": "point", "shape": "triangle-right", "filled": true, "color": "#e8323a", "size": 40, "opacity": 1},
   "encoding": {"x": {"datum": 8.55}, "y": {"datum": 14.61}}},
  {"data": {"values": [{}]}, "mark": {"type": "text", "align": "center", "baseline": "alphabetic", "fontSize": 14, "color": "#5cb646", "text": "decrease"},
   "encoding": {"x": {"datum": -5.39}, "y": {"datum": 14.13}}},
  {"data": {"values": [{}]}, "mark": {"type": "text", "align": "center", "baseline": "alphabetic", "fontSize": 14, "color": "#e8323a", "text": "increase"},
   "encoding": {"x": {"datum": 5.57}, "y": {"datum": 14.13}}},
  {"data": {"values": [{}]}, "mark": {"type": "text", "align": "left", "baseline": "alphabetic", "fontSize": 14, "color": "#5cb646", "text": "40"},
   "encoding": {"x": {"datum": -8.4}, "y": {"datum": 13.55}}},
  {"data": {"values": [{}]}, "mark": {"type": "text", "align": "right", "baseline": "alphabetic", "fontSize": 14, "color": "#e8323a", "text": "117"},
   "encoding": {"x": {"datum": 8.35}, "y": {"datum": 13.55}}}
]
},
{
"width": 112, "height": 375,
"data": {"name": "kegg"},
"title": {"text": "B", "anchor": "start", "frame": "bounds", "fontSize": 28, "fontWeight": "normal", "color": "#222", "dx": -7, "offset": 63},
"mark": {"type": "bar", "stroke": "#8a8a8a", "strokeWidth": 0.6},
"encoding": {
  "x": {"field": "count", "type": "quantitative", "stack": null, "scale": {"domain": [-8, 4], "nice": false, "zero": false},
        "axis": {"values": [-8,-6,-4,-2,0,2,4], "labelExpr": "replace(datum.label, '−', '-')", "title": "Number of KEGG Orthologs", "titleFontSize": 13.5, "titleFontWeight": "normal", "titleColor": "#222", "titlePadding": 8, "labelFontSize": 13, "labelColor": "#222", "domainColor": "#222", "domainWidth": 2.5, "tickColor": "#222", "tickWidth": 2, "tickSize": 7, "zindex": 1,
                 "grid": true, "gridWidth": 2, "gridColor": {"condition": {"test": "datum.value === 0", "value": "#222222"}, "value": "transparent"}}},
  "y": {"field": "pathway", "type": "nominal", "sort": null,
        "scale": {"paddingInner": 0.34, "paddingOuter": 0.35, "range": [7, 375]},
        "axis": {"title": null, "labelExpr": "split(datum.label, '|')", "labelFontSize": 13, "labelColor": "#222", "labelLineHeight": 15, "labelPadding": 3, "labelLimit": 0, "domainColor": "#222", "domainWidth": 2.5, "tickColor": "#222", "tickWidth": 2, "tickSize": 7}},
  "color": {"field": "direction", "type": "nominal", "scale": {"domain": ["Down", "Up"], "range": ["#6cbf4c", "#e8333a"]},
       "legend": {"title": null, "orient": "none", "legendX": 3, "legendY": 428, "direction": "horizontal", "symbolType": "square", "symbolSize": 150, "symbolStrokeColor": "#888", "symbolStrokeWidth": 0.6, "labelFontSize": 14, "labelColor": "#222", "labelOffset": 8, "columnPadding": 36}}
}
}
],
"spacing": 31,
"resolve": {"scale": {"color": "independent"}, "legend": {"color": "independent"}}
},
{
"hconcat": [
{
"width": 10, "height": 544,
"data": {"name": "genes"},
"encoding": {
  "y": {"field": "gene", "type": "nominal", "sort": null, "scale": {"paddingInner": 0, "paddingOuter": 0},
        "axis": {"labels": false, "ticks": false, "domain": false, "title": null, "minExtent": 35, "maxExtent": 35}}
},
"layer": [
  {"mark": {"type": "rect"},
   "encoding": {
     "x": {"datum": 0, "type": "quantitative", "scale": {"domain": [0, 1], "nice": false, "zero": false}, "axis": null},
     "x2": {"datum": 1},
     "fill": {"field": "category", "type": "nominal", "legend": null,
           "scale": {"domain": ["Carbohydrate metabolism", "Amino acid metabolism", "Lipid metabolism", "Energy metabolism"], "range": ["#8a5ba6", "#6cbf4c", "#f4ea2c", "#f8a632"]}}}},
  {"data": {"values": [{}]}, "mark": {"type": "text", "text": "C", "fontSize": 28, "color": "#222", "align": "left", "baseline": "alphabetic", "dy": -27},
   "encoding": {"x": {"datum": -2.3}, "y": {"datum": "BT_0065_alpha-galactosidase precursor_1"}}}
]
},
{
"width": 228, "height": 544,
"data": {"name": "genes"},
"view": {"stroke": "#999999"},
"encoding": {
  "y": {"field": "gene", "type": "nominal", "sort": null, "scale": {"paddingInner": 0, "paddingOuter": 0},
        "axis": {"orient": "right", "title": null, "ticks": false, "domain": false, "labelFontSize": 10, "labelColor": "#333", "labelPadding": 4, "labelLimit": 0}}
},
"layer": [
  {"transform": [{"fold": ["WT", "Triple KO"], "as": ["condition", "lfc"]}],
   "mark": {"type": "rect"},
   "encoding": {
     "x": {"field": "condition", "type": "nominal", "sort": ["WT", "Triple KO"], "scale": {"paddingInner": 0, "paddingOuter": 0},
           "axis": {"title": null, "labelAngle": 0, "ticks": false, "domain": false, "labelFontSize": 14, "labelColor": "#222", "labelPadding": 1}},
     "color": {"field": "lfc", "type": "quantitative",
       "scale": {"domain": [-6, -4, -2, 0, 2, 4, 6], "range": ["#6ec14d", "#1fa24f", "#2a5636", "#252525", "#642a2c", "#a52f35", "#ea323b"], "interpolate": "rgb"},
       "legend": {"title": "log₂ Fold Change", "titleFontSize": 9.5, "titleFontWeight": "normal", "titleColor": "#333", "titlePadding": 6, "titleAnchor": "middle", "titleAlign": "center", "orient": "none", "legendX": 499, "legendY": -15, "direction": "vertical", "gradientLength": 150, "gradientThickness": 9, "gradientStrokeWidth": 0, "values": [6, 4, 2, 0, -2, -4, -6], "labelExpr": "replace(datum.label, '−', '-')", "labelFontSize": 11, "labelColor": "#333", "labelOffset": 4}}}},
  {"mark": {"type": "rect", "opacity": 0},
   "encoding": {
     "fill": {"field": "category", "type": "nominal",
       "scale": {"domain": ["Carbohydrate metabolism", "Amino acid metabolism", "Lipid metabolism", "Energy metabolism"], "range": ["#8a5ba6", "#6cbf4c", "#f4ea2c", "#f8a632"]},
       "legend": {"title": null, "orient": "none", "legendX": 555, "legendY": 11, "symbolType": "square", "symbolSize": 225, "symbolOpacity": 1, "symbolStrokeWidth": 0, "labelFontSize": 10, "labelColor": "#333", "labelOffset": 3, "rowPadding": 0}}}}
],
"resolve": {"scale": {"x": "independent"}}
}
],
"spacing": 4,
"resolve": {"scale": {"color": "independent", "fill": "independent", "x": "independent"}, "legend": {"color": "independent", "fill": "independent"}}
}
],
"spacing": 16
}
